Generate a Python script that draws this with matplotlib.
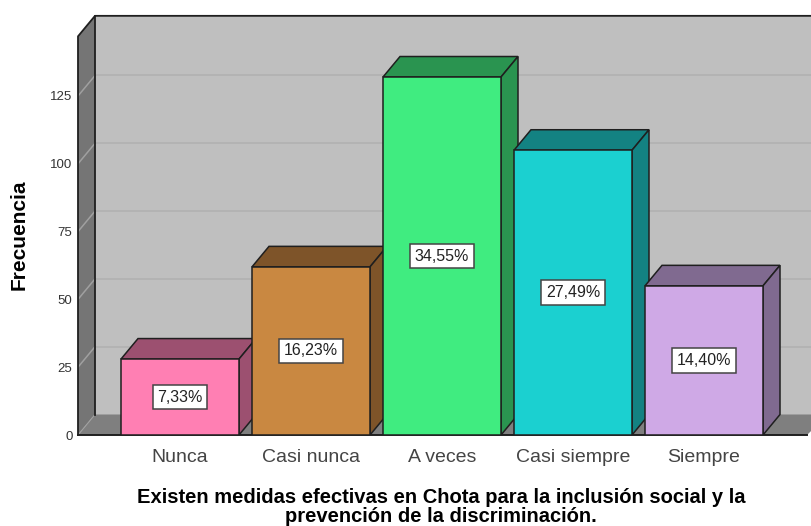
import numpy as np
import matplotlib
matplotlib.use("Agg")
import matplotlib.pyplot as plt

plt.rcParams['font.family'] = ['Liberation Sans', 'DejaVu Sans']

categories = ["Nunca", "Casi nunca", "A veces", "Casi siempre", "Siempre"]
counts = [28, 62, 132, 105, 55]
percent_labels = ["7,33%", "16,23%", "34,55%", "27,49%", "14,40%"]
front_colors = ["#FF7FB3", "#C98841", "#40EC80", "#1BD0D0", "#CFA9E6"]
top_colors = ["#9C5070", "#7E5429", "#2A9450", "#138282", "#806A90"]
y_ticks = [0, 25, 50, 75, 100, 125]

W, H = 811, 526
# pixel layout of the front plane
left_px, right_px, base_px, top_px = 78, 811, 435, 15
px_per_unit = 2.712
px_per_cat = 131
first_cat_px = 180
depth_x = 17 / px_per_cat
depth_y = 20.5 / px_per_unit
ymax_wall = 147
edge = "#1f1f1f"

fig = plt.figure(figsize=(W / 100, H / 100), dpi=100)
ax = fig.add_axes([left_px / W, 1 - base_px / H, (right_px - left_px) / W, (base_px - top_px) / H])
x0 = (left_px - first_cat_px) / px_per_cat
x1 = (right_px - first_cat_px) / px_per_cat
floor_end = (807 - first_cat_px) / px_per_cat
ax.set_xlim(x0, x1)
ax.set_ylim(0, (base_px - top_px) / px_per_unit)
for s in ax.spines.values():
    s.set_visible(False)

# back wall
ax.fill([x0 + depth_x, x1, x1, x0 + depth_x],
        [depth_y, depth_y, ymax_wall + depth_y, ymax_wall + depth_y],
        color="#BFBFBF", lw=0, zorder=1)
# side wall
ax.fill([x0, x0 + depth_x, x0 + depth_x, x0],
        [0, depth_y, ymax_wall + depth_y, ymax_wall],
        color="#757575", lw=0, zorder=1)
# floor
ax.fill([x0, x0 + depth_x, x1 + depth_x, floor_end],
        [0, depth_y, depth_y, 0],
        color="#7F7F7F", lw=0, zorder=1)

# gridlines
for t in y_ticks[1:]:
    ax.plot([x0 + depth_x, x1], [t + depth_y, t + depth_y], color="#B0B0B0", lw=1.1, zorder=2)
    ax.plot([x0, x0 + depth_x], [t, t + depth_y], color="#A0A0A0", lw=1.1, zorder=2)
ax.plot([x0, x0 + depth_x], [0, depth_y], color="#A0A0A0", lw=0.8, zorder=2)

# wall outlines
ax.plot([x0, x0, x0 + depth_x, x1], [0, ymax_wall, ymax_wall + depth_y, ymax_wall + depth_y],
        color=edge, lw=1.3, zorder=3, clip_on=False)
ax.plot([x0 + depth_x, x0 + depth_x], [depth_y, ymax_wall + depth_y], color=edge, lw=1.3, zorder=3)
ax.plot([x0, floor_end], [0, 0], color=edge, lw=1.4, zorder=3, clip_on=False)

# bars
bar_w = 118 / px_per_cat
xs = np.arange(len(categories))
for i, v in enumerate(counts):
    z = 5 + i
    l, r = xs[i] - bar_w / 2, xs[i] + bar_w / 2
    ax.fill([l, l + depth_x, r + depth_x, r], [v, v + depth_y, v + depth_y, v],
            facecolor=top_colors[i], edgecolor=edge, lw=1.1, zorder=z)
    ax.fill([r, r + depth_x, r + depth_x, r], [0, depth_y, v + depth_y, v],
            facecolor=top_colors[i], edgecolor=edge, lw=1.1, zorder=z)
    ax.bar(xs[i], v, width=bar_w, color=front_colors[i], edgecolor=edge, lw=1.1, zorder=z)
    ax.text(xs[i], v / 2, percent_labels[i], ha="center", va="center", fontsize=11.5,
            color="#222222", zorder=20,
            bbox=dict(boxstyle="square,pad=0.3", facecolor="white", edgecolor="#444444", lw=1.1))

ax.set_yticks(y_ticks)
ax.set_xticks(xs)
ax.set_xticklabels(categories, fontsize=14, color="#444444")
ax.tick_params(axis="y", length=0, pad=4, labelsize=9.5, labelcolor="#333333")
ax.tick_params(axis="x", length=0, pad=10)

fig.text(441 / W, 1 - 507 / H,
         "Existen medidas efectivas en Chota para la inclusión social y la\nprevención de la discriminación.",
         ha="center", va="center", fontsize=14.5, fontweight="bold", color="black", linespacing=1.05)
fig.text(19.5 / W, 1 - 235 / H, "Frecuencia", rotation=90, ha="center", va="center",
         fontsize=15, fontweight="bold", color="black")

fig.savefig("out.png", dpi=100)
